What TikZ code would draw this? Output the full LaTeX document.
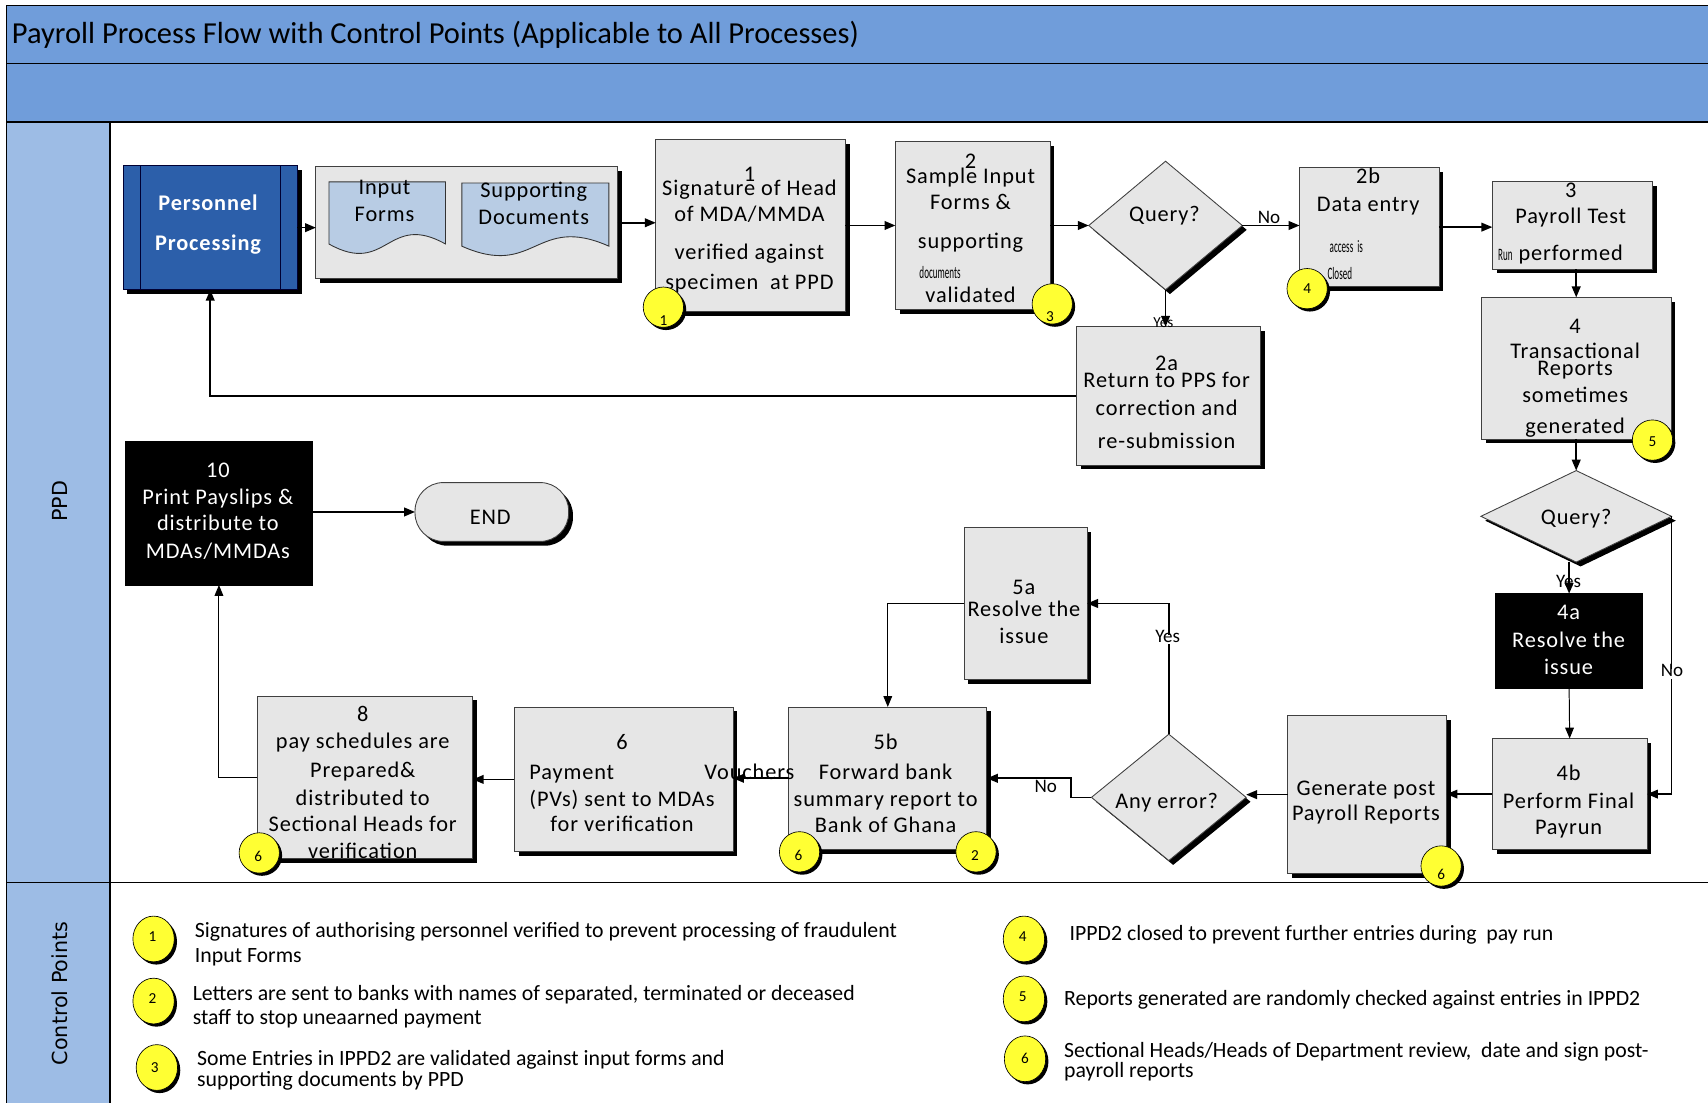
\documentclass[tikz,border=0pt]{standalone}
\usepackage{fontspec}
\setmainfont{Carlito}
\newfontfamily\boxfont[LetterSpace=4]{Carlito}
\newfontfamily\lanefont{DejaVu Sans}
\usetikzlibrary{arrows.meta,shapes.geometric,shadows,calc,fit}

\definecolor{band}{RGB}{112,157,218}
\definecolor{lane}{RGB}{157,188,229}
\definecolor{ppblue}{RGB}{44,95,170}
\definecolor{docblue}{RGB}{184,204,228}
\definecolor{boxgray}{RGB}{230,230,230}
\definecolor{cpyellow}{RGB}{255,255,51}

\begin{document}
\begin{tikzpicture}[x=1pt,y=-1pt,
  every node/.style={inner sep=0pt,outer sep=0pt},
  shad/.style={drop shadow={shadow xshift=4pt,shadow yshift=-4pt,fill=black,opacity=1}},
  smallshad/.style={drop shadow={shadow xshift=2.5pt,shadow yshift=-2.5pt,fill=black,opacity=1}},
  procbox/.style={draw=black!75,line width=0.8pt,fill=boxgray,shad},
  darkbox/.style={draw=black,fill=black},
  decision/.style={diamond,draw=black!75,line width=0.8pt,fill=boxgray,shad},
  docshape/.style={draw=black!80,line width=0.8pt,fill=docblue},
  ln/.style={font=\boxfont\fontsize{20.5}{22}\selectfont,text height=0.68em,text depth=0.2em,yshift=-4pt},
  wln/.style={ln,text=white},
  tiny/.style={font=\fontsize{16}{17}\selectfont,text height=0.68em,text depth=0.2em,yshift=-4pt},
  lbl/.style={font=\fontsize{17.5}{18}\selectfont,text height=0.68em,text depth=0.2em,yshift=-3pt},
  leg/.style={font=\fontsize{20}{21}\selectfont,text height=0.68em,text depth=0.2em,yshift=-4pt,anchor=west},
  cp/.style={circle,draw=black,line width=0.6pt,fill=cpyellow,minimum size=37pt,smallshad},
  cpl/.style={ellipse,draw=black,line width=0.6pt,fill=cpyellow,minimum width=38pt,minimum height=42pt,smallshad},
  cpn/.style={font=\fontsize{14}{15}\selectfont},
  arr/.style={line width=1.5pt,-{Triangle[length=10pt,width=8pt]}},
  tarr/.style={line width=0.9pt,-{Triangle[length=10pt,width=8pt]}}
]
\useasboundingbox (0,0) rectangle (1568,1013);

% ---------- header bands and swim lanes ----------
\fill[white] (0,0) rectangle (1568,1013);
\fill[band] (6,5) rectangle (1568,112);
\fill[lane] (6,112) rectangle (101,1013);
\draw[line width=1.2pt] (6,5) -- (1568,5);
\draw[line width=1.2pt] (6,58) -- (1568,58);
\draw[line width=1.2pt] (6,112) -- (1568,112);
\draw[line width=1.2pt] (6,5) -- (6,1013);
\draw[line width=1pt] (101,112) -- (101,1013);
\draw[line width=1pt] (6,810) -- (1568,810);

\node[anchor=west,font=\fontsize{28}{30}\selectfont] (title) at (11,32)
  {Payroll Process Flow with Control Points (Applicable to All Processes)};
\node[rotate=90,font=\lanefont\fontsize{19}{20}\selectfont] (ppd) at (55,460) {PPD};
\node[rotate=90,font=\lanefont\fontsize{19}{20}\selectfont] (cplane) at (55,912) {Control Points};

% ---------- start: personnel processing ----------
\node[draw=black!80!blue,line width=0.8pt,fill=ppblue,shad,fit={(113,152) (273,266)}] (pp) {};
\draw[black!80!blue,line width=0.8pt] ($(pp.north west)+(16,0)$) -- ($(pp.south west)+(16,0)$);
\draw[black!80!blue,line width=0.8pt] ($(pp.north east)+(-16,0)$) -- ($(pp.south east)+(-16,0)$);
\node[wln,font=\boxfont\bfseries\fontsize{20.5}{22}\selectfont] (ppa) at (191,187) {Personnel};
\node[wln,font=\boxfont\bfseries\fontsize{20.5}{22}\selectfont] (ppb) at (191,224) {Processing};

% ---------- input documents ----------
\node[procbox,fit={(290,153) (567,256)}] (docs) {};
\draw[docshape] (302,167) -- (409,167) -- (409,224)
  .. controls (355.5,194) and (355.5,254) .. (302,224) -- cycle;
\draw[docshape] (424,168) -- (559,168) -- (559,226)
  .. controls (491.5,196) and (491.5,256) .. (424,226) -- cycle;
\node[ln] (d1a) at (353,172) {Input};
\node[ln] (d1b) at (353,197) {Forms};
\node[ln] (d2a) at (490,175) {Supporting};
\node[ln] (d2b) at (490,200) {Documents};

% ---------- process boxes ----------
\node[procbox,fit={(602,128) (776,286)}] (b1) {};
\node[procbox,fit={(822,130) (964,284)}] (b2) {};
\node[procbox,fit={(988,300) (1157,427)}] (b2a) {};
\node[procbox,fit={(1193,154) (1321,263)}] (b2b) {};
\node[procbox,fit={(1370,167) (1517,247)}] (b3) {};
\node[procbox,fit={(1360,273) (1534,403)}] (b4) {};
\node[darkbox,fit={(1373,545) (1508,632)}] (b4a) {};
\node[procbox,fit={(1370,678) (1512,780)}] (b4b) {};
\node[procbox,fit={(1182,657) (1328,802)}] (gen) {};
\node[procbox,fit={(885,484) (998,624)}] (b5a) {};
\node[procbox,fit={(724,649) (906,780)}] (b5b) {};
\node[procbox,fit={(472,649) (673,782)}] (b6) {};
\node[procbox,fit={(236,639) (434,788)}] (b8) {};
\node[darkbox,fit={(115,405) (287,537)}] (b10) {};
\node[draw=black!75,line width=0.8pt,fill=boxgray,shad,rounded corners=26pt,
      minimum width=141pt,minimum height=54pt] (endn) at (451.5,470) {};

% ---------- decisions ----------
\node[decision,minimum width=141pt,minimum height=118pt] (q1) at (1070,207) {};
\node[decision,minimum width=175pt,minimum height=84pt] (q2) at (1447,474) {};
\node[decision,minimum width=142pt,minimum height=116pt] (ae) at (1073,732) {};

% ---------- box texts ----------
\foreach \yy/\s [count=\i] in {160/1,173/Signature of Head,197/{of MDA/MMDA},232/verified against,259/specimen\ \ at PPD}
  \node[ln] (t1-\i) at (688,\yy) {\s};
\foreach \yy/\s [count=\i] in {148/2,162/Sample Input,186/Forms \&,222/supporting,271/validated}
  \node[ln] (t2-\i) at (891,\yy) {\s};
\node[tiny] (t2-docs) at (863,249) {\scalebox{0.52}[1]{documents}};
\foreach \yy/\s [count=\i] in {334/2a,349/Return to PPS for,375/correction and,405/re-submission}
  \node[ln] (t2a-\i) at (1071,\yy) {\s};
\foreach \yy/\s [count=\i] in {162/2b,188/Data entry}
  \node[ln] (t2b-\i) at (1256,\yy) {\s};
\node[tiny] (t2b-3) at (1236,225) {\scalebox{0.52}[1]{access\ \ is}};
\node[tiny] (t2b-4) at (1230,250) {\scalebox{0.52}[1]{Closed}};
\foreach \yy/\s [count=\i] in {175/3,199/Payroll Test,233/performed}
  \node[ln] (t3-\i) at (1442,\yy) {\s};
\node[tiny] (t3-run) at (1382,233) {\scalebox{0.52}[1]{Run}};
\foreach \yy/\s [count=\i] in {300/4,323/Transactional,338/Reports,363/sometimes,392/generated}
  \node[ln] (t4-\i) at (1446,\yy) {\s};
\foreach \yy/\s [count=\i] in {562/4a,588/Resolve the,613/issue}
  \node[wln] (t4a-\i) at (1440,\yy) {\s};
\foreach \yy/\s [count=\i] in {710/4b,736/Perform Final,760/Payrun}
  \node[ln] (t4b-\i) at (1440,\yy) {\s};
\foreach \yy/\s [count=\i] in {724/Generate post,747/Payroll Reports}
  \node[ln] (tg-\i) at (1254,\yy) {\s};
\foreach \yy/\s [count=\i] in {539/5a,560/Resolve the,584/issue}
  \node[ln] (t5a-\i) at (940,\yy) {\s};
\foreach \yy/\s [count=\i] in {682/5b,709/Forward bank,734/summary report to,758/Bank of Ghana}
  \node[ln] (t5b-\i) at (813,\yy) {\s};
\foreach \yy/\s [count=\i] in {682/6,734/(PVs) sent to MDAs,757/for verification}
  \node[ln] (t6-\i) at (571,\yy) {\s};
\node[ln,anchor=west] (t6-pay) at (486,709) {Payment};
\node[ln] (t6-vou) at (688,709) {Vouchers};
\foreach \yy/\s [count=\i] in {656/8,681/pay schedules are,707/Prepared\&,733/distributed to,757/Sectional Heads for,782/verification}
  \node[ln] (t8-\i) at (333,\yy) {\s};
\foreach \yy/\s [count=\i] in {432/10,457/Print Payslips \&,481/distribute to,506/{MDAs/MMDAs}}
  \node[wln] (t10-\i) at (200,\yy) {\s};
\node[ln] (tend) at (450,475) {END};
\node[ln] (tq1) at (1069,197) {Query?};
\node[ln] (tq2) at (1447,475) {Query?};
\node[ln] (tae) at (1071,736) {Any error?};

% ---------- connectors ----------
\draw[arr] (pp.east) -- (pp.east -| docs.west);
\draw[arr] (docs.east) -- (docs.east -| b1.west);
\draw[arr] (b1.east) -- (b2.west);
\draw[arr] (b2.east) -- (q1.west);
\draw[arr] (q1.east) -- (q1.east -| b2b.west);
\draw[arr] (b2b.east) -- (b2b.east -| b3.west);
\draw[arr] (q1.south) -- (q1.south |- b2a.north);
\draw[arr] (b2a.west) -| (pp.south);
\draw[arr] (b4.north |- b3.south) -- (b4.north);
\draw[arr] (b4.south) -- (q2.north);
\draw[arr] (b4a.north |- q2.south) -- (b4a.north);
\draw[arr] (q2.east) |- (b4b.east);
\draw[tarr] (b4a.south) -- (b4b.north);
\draw[arr] (b4b.west) -- (b4b.west -| gen.east);
\draw[arr] (gen.west) -- (gen.west -| ae.east);
\draw[arr] (ae.north) |- (b5a.east);
\draw[arr] (ae.west) -- ++(-19,0) |- (b5b.east);
\draw[tarr] (b5a.west) -| (b5b.north);
\draw[arr] (b5b.west) -- (b5b.west -| b6.east);
\draw[arr] (b6.west) -- (b6.west -| b8.east);
\draw[tarr] (b8.west) -| (b10.south);
\draw[arr] (b10.east |- endn.west) -- (endn.west);

% ---------- connector labels ----------
\node[lbl] (lno1) at (1165,200) {No};
\node[font=\fontsize{14}{15}\selectfont] (lyes1) at (1068,296) {Yes};
\node[lbl,fill=white] (lno2) at (1535,616) {No};
\node[lbl] (lyes2) at (1440,534) {Yes};
\node[lbl,fill=white] (lyes3) at (1072,584) {Yes};
\node[lbl,fill=white] (lno3) at (960,722) {No};

% ---------- control point markers on the flow ----------
\node[cp] (c1) at (609,282) {};
\node[cpn] (c1n) at (609,294) {1};
\node[cp] (c3) at (966,279) {};
\node[cpn] (c3n) at (964,291) {3};
\node[cp] (c4) at (1200,265) {};
\node[cpn] (c4n) at (1200,265) {4};
\node[cp] (c5) at (1517,404) {};
\node[cpn] (c5n) at (1517,405) {5};
\node[cp] (c6g) at (1323,795) {};
\node[cpn] (c6gn) at (1323,803) {6};
\node[cp] (c6b) at (734,782) {};
\node[cpn] (c6bn) at (733,785) {6};
\node[cp] (c2b) at (896,782) {};
\node[cpn] (c2bn) at (895,785) {2};
\node[cp] (c6p) at (238,783) {};
\node[cpn] (c6pn) at (237,786) {6};

% ---------- control points legend ----------
\node[cpl] (k1) at (141,862) {}; \node[cpn] (k1n) at (140,860) {1};
\node[cpl] (k2) at (141,919) {}; \node[cpn] (k2n) at (140,917) {2};
\node[cpl] (k3) at (144,980) {}; \node[cpn] (k3n) at (142,980) {3};
\node[cpl] (k4) at (940,862) {}; \node[cpn] (k4n) at (939,860) {4};
\node[cpl] (k5) at (940,917) {}; \node[cpn] (k5n) at (939,915) {5};
\node[cpl] (k6) at (941,972) {}; \node[cpn] (k6n) at (941,972) {6};

\node[leg] (k1a) at (179,854) {Signatures of authorising personnel verified to prevent processing of fraudulent};
\node[leg] (k1b) at (179,877) {Input Forms};
\node[leg] (k2a) at (177,912) {Letters are sent to banks with names of separated, terminated or deceased};
\node[leg] (k2b) at (177,934) {staff to stop uneaarned payment};
\node[leg] (k3a) at (181,972) {Some Entries in IPPD2 are validated against input forms and};
\node[leg] (k3b) at (181,991) {supporting documents by PPD};
\node[leg] (k4a) at (982,857) {IPPD2 closed to prevent further entries during\ \ pay run};
\node[leg] (k5a) at (977,917) {Reports generated are randomly checked against entries in IPPD2};
\node[leg] (k6a) at (977,964) {Sectional Heads/Heads of Department review,\ \ date and sign post-};
\node[leg] (k6b) at (977,983) {payroll reports};
\end{tikzpicture}
\end{document}
